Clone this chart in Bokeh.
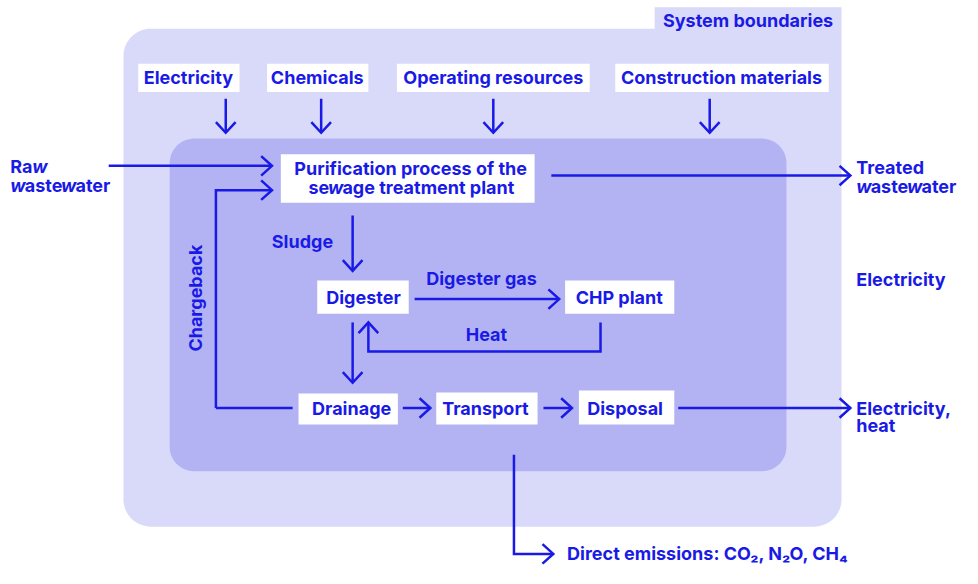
import numpy as np
from bokeh.plotting import figure
from bokeh.models import Range1d
from bokeh.core.properties import value
from bokeh.embed import file_html
from bokeh.resources import INLINE

BLUE = "#1a1ae6"
OUTER = "#d9d9f9"
INNER = "#b3b3f3"
FONT = "Inter"
FSPX = 18
FS = f"{FSPX}px"
SX = 962 / 978  # screen px per reference px

# ---- white label boxes ----
box_names = ["Electricity", "Chemicals", "Operating resources", "Construction materials",
             "Purification", "Digester", "CHP plant", "Drainage", "Transport", "Disposal"]
box_x0 = [140, 271, 403, 625, 285, 322, 574, 303, 443, 588]
box_x1 = [243, 374, 599, 842, 543, 415, 685, 404, 546, 685]
box_y0 = [65, 65, 65, 65, 158, 288, 288, 404, 403, 401]
box_y1 = [94, 94, 94, 94, 208, 322, 322, 436, 436, 436]

# ---- centred labels ----
c_text = ["Electricity", "Chemicals", "Operating resources", "Construction materials",
          "Purification process of the",
          "Digester", "CHP plant", "Drainage", "Transport", "Disposal",
          "System boundaries", "Sludge", "Digester gas", "Heat"]
c_x = [191, 322, 501, 733, 417, 369, 629, 357, 493, 635, 760, 307, 489, 494]
c_y = [79, 79, 79, 79, 173, 305, 305, 419, 419, 419, 21, 248, 286, 343]

# ---- left-aligned labels ----
l_text = ["Treated", "Electricity", "Electricity,", "heat",
          "Direct emissions: CO\u2082, N\u2082O, CH\u2084"]
l_x = [870, 870, 870, 870, 576]
l_y = [172, 287, 419, 437, 569]

# ---- words written with an italic "w" (pieces, italic flag), start x, y ----
w_words = [("se|w|age treatment plant", 313, 192),
           ("Ra|w", 10, 171),
           ("|w|aste|w|ater", 10, 190),
           ("|w|aste|w|ater", 870, 191)]

# ---- arrows (polyline, head at the end) ----
arrow_xs = [[110, 276], [219, 219, 276], [560, 864], [421, 568], [409, 437], [552, 581],
            [689, 864], [522, 522, 562], [229, 229], [326, 326], [501, 501], [721, 721],
            [358, 358], [358, 358], [610, 610, 374, 374]]
arrow_ys = [[170, 170], [419, 195, 195], [180, 180], [307, 307], [419, 419], [419, 419],
            [419, 419], [467, 569, 569], [101, 136], [101, 136], [101, 136], [101, 136],
            [221, 278], [331, 393], [331, 361, 361, 331]]
line_xs = [[219, 297]]
line_ys = [[419, 419]]

# approximate advance widths (em) of the bold face, used to chain text pieces
ADV = {"R": 0.66, "a": 0.56, "w": 0.80, "s": 0.52, "t": 0.37, "e": 0.57, "r": 0.39,
       "g": 0.60, " ": 0.25, "m": 0.86, "n": 0.59, "p": 0.60, "l": 0.26}


def text_w(s):
    return sum(ADV.get(ch, 0.55) for ch in s) * FSPX / SX  # in reference px


def rounded_pts(x0, y0, x1, y1, r, n=16):
    xs, ys = [], []
    for cx, cy, a0 in [(x0 + r, y0 + r, 180), (x1 - r, y0 + r, 270),
                       (x1 - r, y1 - r, 0), (x0 + r, y1 - r, 90)]:
        a = np.radians(np.linspace(a0, a0 + 90, n))
        xs += list(cx + r * np.cos(a))
        ys += list(cy + r * np.sin(a))
    return xs, ys


p = figure(width=962, height=568, x_range=Range1d(0, 978), y_range=Range1d(584, 0),
           output_backend="svg", toolbar_location=None, min_border=0)
p.axis.visible = False
p.grid.visible = False
p.outline_line_color = None
p.background_fill_color = "white"
p.border_fill_color = "white"

# outer boundary with square top-right corner and tab
R = 28
ox0, oy0, ox1, oy1 = 125, 29, 855, 541
tab_x0, tab_y0 = 665, 7
oxs, oys = [], []
a = np.radians(np.linspace(180, 270, 16))
oxs += list(ox0 + R + R * np.cos(a)); oys += list(oy0 + R + R * np.sin(a))
oxs += [tab_x0, tab_x0, ox1]; oys += [oy0, tab_y0, tab_y0]
a = np.radians(np.linspace(0, 90, 16))
oxs += list(ox1 - R + R * np.cos(a)); oys += list(oy1 - R + R * np.sin(a))
a = np.radians(np.linspace(90, 180, 16))
oxs += list(ox0 + R + R * np.cos(a)); oys += list(oy1 - R + R * np.sin(a))
p.patch(oxs, oys, fill_color=OUTER, line_color=None)

# inner box
ixs, iys = rounded_pts(172, 142, 799, 484, 25)
p.patch(ixs, iys, fill_color=INNER, line_color=None)

# white boxes
p.quad(left=box_x0, right=box_x1, top=box_y0, bottom=box_y1, fill_color="white", line_color=None)

# arrows
p.multi_line(arrow_xs + line_xs, arrow_ys + line_ys, line_color=BLUE, line_width=2.5,
             line_join="miter")
hx, hy = [], []
L, W = 11, 10
for xs, ys in zip(arrow_xs, arrow_ys):
    tx, ty = xs[-1], ys[-1]
    dx, dy = xs[-1] - xs[-2], ys[-1] - ys[-2]
    d = np.hypot(dx, dy); dx, dy = dx / d, dy / d
    nx, ny = -dy, dx
    hx.append([tx - L * dx + W * nx, tx, tx - L * dx - W * nx])
    hy.append([ty - L * dy + W * ny, ty, ty - L * dy - W * ny])
p.multi_line(hx, hy, line_color=BLUE, line_width=2.5, line_join="miter")

# texts
common = dict(text_font=value(FONT), text_font_size=FS, text_color=BLUE, text_baseline="middle")
p.text(c_x, c_y, text=c_text, text_font_style="bold", text_align="center", **common)
p.text(l_x, l_y, text=l_text, text_font_style="bold", text_align="left", **common)
p.text([198], [306], text=["Chargeback"], angle=np.pi / 2, text_font_style="bold",
       text_align="center", **common)

# words with italic w, pieces chained left to right
up_x, up_y, up_t, it_x, it_y = [], [], [], [], []
for word, x0, y0 in w_words:
    x = x0
    for i, piece in enumerate(word.split("|")):
        if not piece:
            continue
        if i % 2 == 1:
            it_x.append(x); it_y.append(y0)
        else:
            up_x.append(x); up_y.append(y0); up_t.append(piece)
        x += text_w(piece)
p.text(up_x, up_y, text=up_t, text_font_style="bold", text_align="left", **common)
p.text(it_x, it_y, text=["w"] * len(it_x), text_font_style="bold italic",
       text_align="left", **common)

open("out.html", "w").write(file_html(p, INLINE))
